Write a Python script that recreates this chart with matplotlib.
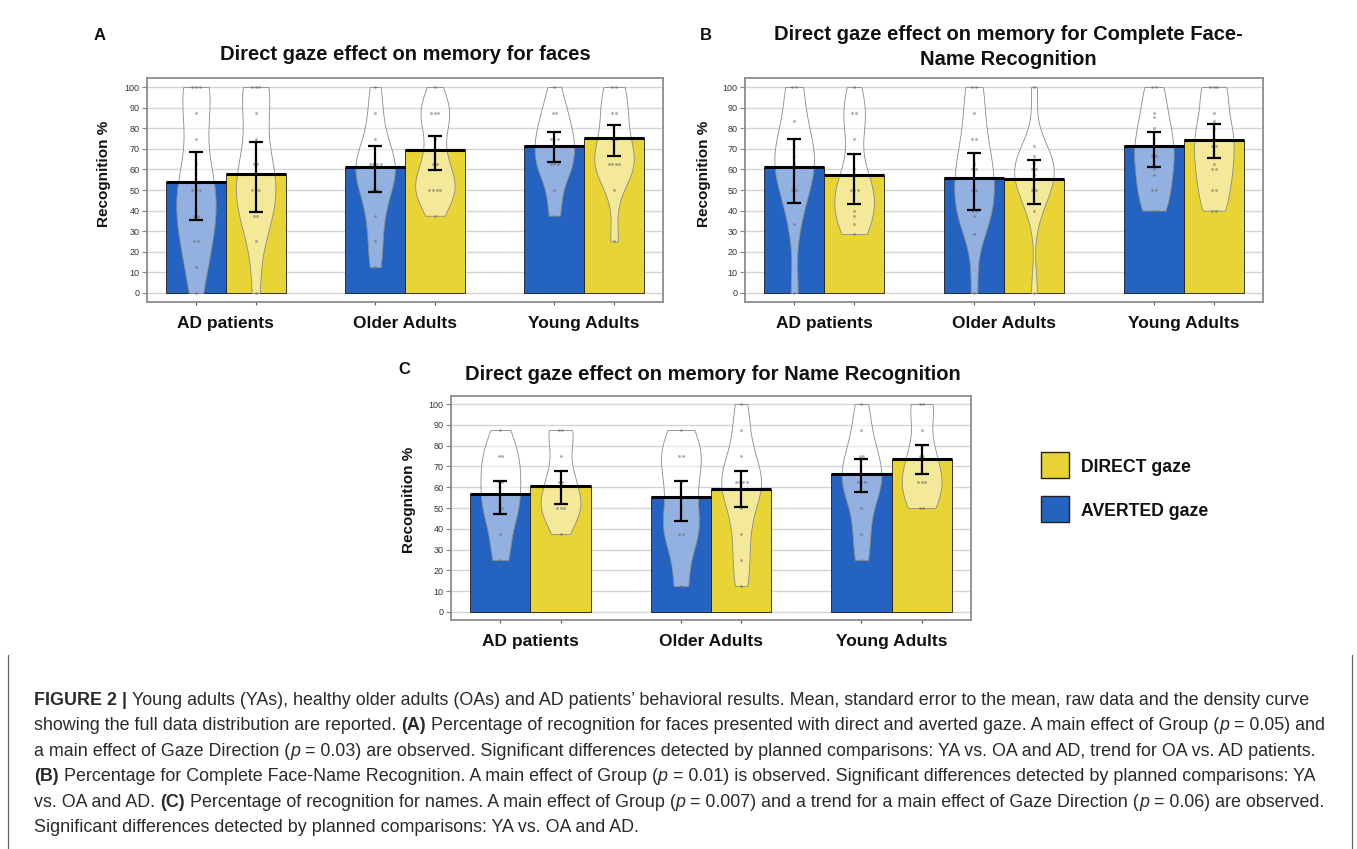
import numpy as np
import matplotlib
matplotlib.use("Agg")
import matplotlib.pyplot as plt
import matplotlib.transforms as mtrans
from matplotlib.patches import Rectangle
from matplotlib.lines import Line2D

W, H = 1357, 849
FONT = "Liberation Sans"
plt.rcParams["font.family"] = [FONT, "DejaVu Sans"]
CAP_FONT = ["Liberation Sans", "DejaVu Sans"]

BLUE = "#2563c1"
YELLOW = "#e8d434"

groups = ["AD patients", "Older Adults", "Young Adults"]

# ---- values (averted = blue, direct = yellow) ----
# A: memory for faces
a_averted_mean = [54.0, 61.3, 71.5]
a_averted_lo = [35.3, 49.0, 63.7]
a_averted_hi = [68.4, 71.3, 78.0]
a_direct_mean = [58.0, 69.5, 75.4]
a_direct_lo = [39.4, 59.8, 66.6]
a_direct_hi = [73.4, 76.4, 81.6]
a_averted_pts = [
    [0, 12.5, 25, 25, 37.5, 37.5, 50, 50, 50, 62.5, 75, 87.5, 100, 100, 100],
    [12.5, 25, 37.5, 50, 50, 62.5, 62.5, 62.5, 62.5, 75, 87.5, 100],
    [37.5, 50, 62.5, 62.5, 62.5, 75, 75, 75, 87.5, 87.5, 100],
]
a_direct_pts = [
    [0, 25, 37.5, 37.5, 50, 50, 50, 62.5, 62.5, 75, 87.5, 100, 100, 100],
    [37.5, 50, 50, 50, 50, 62.5, 62.5, 75, 87.5, 87.5, 87.5, 100],
    [25, 50, 62.5, 62.5, 62.5, 62.5, 75, 75, 87.5, 87.5, 100, 100],
]

# B: complete face-name recognition
b_averted_mean = [61.0, 55.7, 71.2]
b_averted_lo = [43.7, 40.2, 61.1]
b_averted_hi = [74.9, 67.9, 78.1]
b_direct_mean = [57.2, 55.4, 74.5]
b_direct_lo = [43.3, 43.4, 65.6]
b_direct_hi = [67.3, 64.8, 82.0]
b_averted_pts = [
    [0, 33.3, 50, 50, 60, 62.5, 66.7, 71.4, 75, 83.3, 100, 100],
    [0, 28.6, 37.5, 40, 40, 50, 50, 60, 60, 62.5, 75, 75, 87.5, 100, 100],
    [40, 40, 50, 50, 57.1, 60, 66.7, 66.7, 71.4, 75, 80, 85.7, 87.5, 100, 100],
]
b_direct_pts = [
    [28.6, 33.3, 37.5, 40, 50, 50, 50, 60, 75, 87.5, 87.5, 100],
    [0, 40, 50, 50, 57.1, 60, 60, 62.5, 66.7, 71.4, 100],
    [40, 40, 50, 50, 60, 60, 62.5, 71.4, 71.4, 75, 80, 83.3, 87.5, 100, 100, 100],
]

# C: name recognition
c_averted_mean = [56.8, 55.2, 66.3]
c_averted_lo = [46.9, 43.7, 57.9]
c_averted_hi = [63.2, 62.8, 73.7]
c_direct_mean = [60.4, 58.9, 73.7]
c_direct_lo = [51.8, 50.4, 66.3]
c_direct_hi = [67.9, 67.6, 80.1]
c_averted_pts = [
    [25, 37.5, 50, 50, 62.5, 62.5, 75, 75, 87.5],
    [12.5, 37.5, 37.5, 50, 62.5, 75, 75, 87.5],
    [25, 37.5, 50, 62.5, 62.5, 62.5, 75, 75, 87.5, 100],
]
c_direct_pts = [
    [37.5, 50, 50, 50, 62.5, 62.5, 75, 87.5, 87.5],
    [12.5, 25, 37.5, 50, 62.5, 62.5, 62.5, 62.5, 75, 87.5, 100],
    [50, 50, 62.5, 62.5, 62.5, 75, 75, 87.5, 100, 100],
]

yticks = list(range(0, 101, 10))


def rect(left, top, right, bottom):
    return [left / W, 1 - bottom / H, (right - left) / W, (bottom - top) / H]


fig = plt.figure(figsize=(W / 100, H / 100), dpi=100)
fig.patch.set_facecolor("white")


def jitter(vals):
    xs = []
    seen = {}
    counts = {v: vals.count(v) for v in vals}
    for v in vals:
        j = seen.get(v, 0)
        seen[v] = j + 1
        xs.append((j - (counts[v] - 1) / 2) * 0.02)
    return np.array(xs)


def draw_panel(ax, am, alo, ahi, dm, dlo, dhi, apts, dpts, ylim):
    x = np.arange(len(groups))
    xa, xd = x - 1 / 6, x + 1 / 6
    ax.bar(xa, am, width=1 / 3, color=BLUE, edgecolor="#1a1a1a", linewidth=0.6, zorder=2)
    ax.bar(xd, dm, width=1 / 3, color=YELLOW, edgecolor="#1a1a1a", linewidth=0.6, zorder=2)

    for pos, pts in ((xa, apts), (xd, dpts)):
        parts = ax.violinplot(pts, positions=pos, widths=0.22, bw_method=0.45,
                              showextrema=False)
        for body in parts["bodies"]:
            body.set_alpha(None)
            body.set_facecolor((1, 1, 1, 0.5))
            body.set_edgecolor("#8a8a8a")
            body.set_linewidth(0.6)
            body.set_zorder(3)
        for p, vals in zip(pos, pts):
            ax.scatter(p + jitter(vals), vals, s=4, color="#666666", alpha=0.55,
                       linewidths=0, zorder=4)

    ax.hlines(am, xa - 1 / 6, xa + 1 / 6, colors="black", lw=2.2, zorder=5)
    ax.hlines(dm, xd - 1 / 6, xd + 1 / 6, colors="black", lw=2.2, zorder=5)
    for pos, m, lo, hi in ((xa, am, alo, ahi), (xd, dm, dlo, dhi)):
        m = np.array(m)
        ax.errorbar(pos, m, yerr=[m - np.array(lo), np.array(hi) - m], fmt="none",
                    ecolor="black", elinewidth=1.6, capsize=5, capthick=1.6, zorder=6)

    ax.set_xlim(-0.44, 2.44)
    ax.set_ylim(*ylim)
    ax.set_yticks(yticks)
    ax.set_xticks(np.concatenate([xa, xd]))
    ax.set_xticklabels([])
    ax.grid(axis="y", color="#d4d4d4", lw=1.0, zorder=0)
    ax.set_axisbelow(True)
    ax.tick_params(axis="y", length=3.5, width=0.8, color="#888888", labelsize=6.5,
                   labelcolor="#333333", pad=2)
    ax.tick_params(axis="x", length=2, width=0.8, color="#555555")
    for s in ax.spines.values():
        s.set_color("#8c8c8c")
        s.set_linewidth(1.3)


panels = [
    dict(box=(147, 78, 663, 302), ylim=(-4.4, 104.4),
         data=(a_averted_mean, a_averted_lo, a_averted_hi, a_direct_mean, a_direct_lo,
               a_direct_hi, a_averted_pts, a_direct_pts),
         title="Direct gaze effect on memory for faces", title_xy=(405, 54),
         letter="A", letter_xy=(100, 35), cat_y=328, ylab_xy=(104, 174)),
    dict(box=(745, 78, 1263, 302), ylim=(-4.4, 104.4),
         data=(b_averted_mean, b_averted_lo, b_averted_hi, b_direct_mean, b_direct_lo,
               b_direct_hi, b_averted_pts, b_direct_pts),
         title="Direct gaze effect on memory for Complete Face-\nName Recognition",
         title_xy=(1008, 47), letter="B", letter_xy=(706, 35), cat_y=328,
         ylab_xy=(704, 174)),
    dict(box=(451, 396, 971, 620), ylim=(-3.85, 103.85),
         data=(c_averted_mean, c_averted_lo, c_averted_hi, c_direct_mean, c_direct_lo,
               c_direct_hi, c_averted_pts, c_direct_pts),
         title="Direct gaze effect on memory for Name Recognition", title_xy=(713, 375),
         letter="C", letter_xy=(404, 370), cat_y=646, ylab_xy=(409, 500)),
]

for p in panels:
    ax = fig.add_axes(rect(*p["box"]))
    draw_panel(ax, *p["data"], p["ylim"])
    tx, ty = p["title_xy"]
    fig.text(tx / W, 1 - ty / H, p["title"], ha="center", va="center",
             fontsize=14.5, fontweight="bold", color="#111111", linespacing=1.35)
    fig.text(p["letter_xy"][0] / W, 1 - p["letter_xy"][1] / H, p["letter"], ha="center",
             va="center", fontsize=12, fontweight="bold", color="#111111")
    fig.text(p["ylab_xy"][0] / W, 1 - p["ylab_xy"][1] / H, "Recognition %", rotation=90,
             ha="center", va="center", fontsize=11, fontweight="bold", color="#111111")
    tr = mtrans.blended_transform_factory(ax.transData, fig.transFigure)
    for i, g in enumerate(groups):
        ax.text(i, 1 - p["cat_y"] / H, g, transform=tr, ha="center", va="baseline",
                fontsize=12.5, fontweight="bold", color="#111111", clip_on=False)

# legend
for label, color, yc in (("DIRECT gaze", YELLOW, 465), ("AVERTED gaze", BLUE, 509)):
    fig.add_artist(Rectangle((1041 / W, 1 - (yc + 13) / H), 28 / W, 26 / H,
                             transform=fig.transFigure, facecolor=color,
                             edgecolor="#222222", lw=1.0))
    fig.text(1081 / W, 1 - (yc + 2) / H, label, ha="left", va="center", fontsize=12.7,
             fontweight="bold", color="#111111")

# caption box sides
for xp in (8, 1352):
    fig.add_artist(Line2D([xp / W, xp / W], [0, 1 - 655 / H], transform=fig.transFigure,
                          color="#666666", lw=0.9))

N, B, I = "normal", "bold", "italic"
caption_lines = [
    [("FIGURE 2 | ", B), ("Young adults (YAs), healthy older adults (OAs) and AD patients\u2019 "
                          "behavioral results. Mean, standard error to the mean, raw data and "
                          "the density curve", N)],
    [("showing the full data distribution are reported. ", N), ("(A)", B),
     (" Percentage of recognition for faces presented with direct and averted gaze. A main "
      "effect of Group (", N), ("p", I), (" = 0.05) and", N)],
    [("a main effect of Gaze Direction (", N), ("p", I),
     (" = 0.03) are observed. Significant differences detected by planned comparisons: YA "
      "vs. OA and AD, trend for OA vs. AD patients.", N)],
    [("(B)", B), (" Percentage for Complete Face-Name Recognition. A main effect of Group (", N),
     ("p", I), (" = 0.01) is observed. Significant differences detected by planned "
                "comparisons: YA", N)],
    [("vs. OA and AD. ", N), ("(C)", B),
     (" Percentage of recognition for names. A main effect of Group (", N), ("p", I),
     (" = 0.007) and a trend for a main effect of Gaze Direction (", N), ("p", I),
     (" = 0.06) are observed.", N)],
    [("Significant differences detected by planned comparisons: YA vs. OA and AD.", N)],
]

renderer = fig.canvas.get_renderer()


def style_kw(st, size):
    return dict(family=CAP_FONT, fontsize=size, fontweight="bold" if st == B else "normal",
                fontstyle="italic" if st == I else "normal")


def seg_w(s, st, size):
    t = fig.text(0, 0, "|" + s + "|", **style_kw(st, size))
    w = t.get_window_extent(renderer).width
    t.remove()
    t = fig.text(0, 0, "||", **style_kw(st, size))
    w -= t.get_window_extent(renderer).width
    t.remove()
    return w


base = 12.0
w1 = sum(seg_w(s, st, base) for s, st in caption_lines[0])
cap_size = base * (1311 - 34) / w1

for i, line in enumerate(caption_lines):
    xp = 34.0
    yb = 705 + 25.4 * i
    for s, st in line:
        fig.text(xp / W, 1 - yb / H, s, ha="left", va="baseline", color="#2a2a2a",
                 **style_kw(st, cap_size))
        xp += seg_w(s, st, cap_size)

fig.savefig("out.png", dpi=100, facecolor="white")
